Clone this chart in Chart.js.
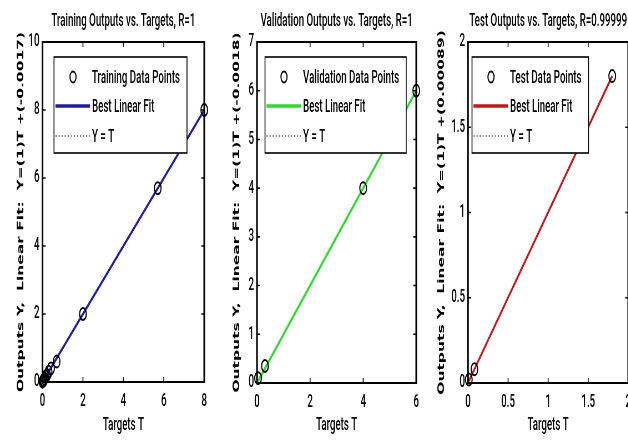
<!DOCTYPE html>
<html>
<head>
<meta charset="utf-8">
<script src="https://cdn.jsdelivr.net/npm/chart.js@4.4.0/dist/chart.umd.min.js"></script>
<style>
  html, body { margin: 0; padding: 0; background: #fff; overflow: hidden; width: 628px; height: 441px; }
  .panel { position: absolute; top: 0; height: 441px; transform-origin: 0 0; }
</style>
</head>
<body>
<div class="panel" id="p1"><canvas id="train"></canvas></div>
<div class="panel" id="p2"><canvas id="valid"></canvas></div>
<div class="panel" id="p3"><canvas id="test"></canvas></div>
<script>
// ---- data ----
const trainTargets = [0, 0.03, 0.06, 0.1, 0.15, 0.22, 0.3, 0.42, 0.7, 2, 5.7, 8];
const trainOutputs = [0.01, 0.04, 0.05, 0.1, 0.16, 0.2, 0.3, 0.4, 0.6, 2, 5.7, 8];
const trainFitT = [0, 8];
const trainFitY = [-0.0017, 7.9983];
const trainXTicks = [0, 2, 4, 6, 8];
const trainYTicks = [0, 2, 4, 6, 8, 10];

const validTargets = [0.04, 0.3, 4, 6];
const validOutputs = [0.1, 0.35, 4, 6];
const validFitT = [0.04, 6];
const validFitY = [0.0382, 5.9982];
const validXTicks = [0, 2, 4, 6];
const validYTicks = [0, 1, 2, 3, 4, 5, 6, 7];

const testTargets = [0.01, 0.08, 1.8];
const testOutputs = [0.02, 0.08, 1.8];
const testFitT = [0.01, 1.8];
const testFitY = [0.0109, 1.8009];
const testXTicks = [0, 0.5, 1, 1.5, 2];
const testYTicks = [0, 0.5, 1, 1.5, 2];

const FONT = 'Roboto, "Liberation Sans", Arial, sans-serif';
const WEIGHT = '500';
const FS = 17.5;
const YFONT = '"DejaVu Sans", sans-serif';
const PANEL_W = 212;

// the reference is squeezed sideways: draw each panel wide, then scale it by S.
// S is picked so the first title comes out as wide as in the picture (144px)
const S = (() => {
  const c = document.createElement('canvas').getContext('2d');
  c.font = WEIGHT + ' ' + FS + 'px ' + FONT;
  return 144 / c.measureText('Training Outputs vs. Targets, R=1').width;
})();

// box round the plot with inward ticks on all four sides
const boxAxes = {
  id: 'boxAxes',
  afterDatasetsDraw(chart) {
    const { ctx, chartArea: a, scales } = chart;
    ctx.save();
    ctx.strokeStyle = '#000';
    ctx.lineWidth = 1.6;
    ctx.beginPath();
    scales.x.ticks.forEach((t, i) => {
      const px = scales.x.getPixelForTick(i);
      ctx.moveTo(px, a.bottom); ctx.lineTo(px, a.bottom - 5);
      ctx.moveTo(px, a.top); ctx.lineTo(px, a.top + 5);
    });
    ctx.stroke();
    ctx.beginPath();
    scales.y.ticks.forEach((t, i) => {
      const py = scales.y.getPixelForTick(i);
      ctx.moveTo(a.left, py); ctx.lineTo(a.left + 3 / S, py);
      ctx.moveTo(a.right, py); ctx.lineTo(a.right - 3 / S, py);
    });
    ctx.stroke();
    ctx.lineWidth = 1.8;
    ctx.beginPath();
    ctx.moveTo(a.left, a.top); ctx.lineTo(a.right, a.top);
    ctx.moveTo(a.left, a.bottom); ctx.lineTo(a.right, a.bottom);
    ctx.stroke();
    ctx.lineWidth = 3;
    ctx.beginPath();
    ctx.moveTo(a.left, a.top - 0.9); ctx.lineTo(a.left, a.bottom + 0.9);
    ctx.moveTo(a.right, a.top - 0.9); ctx.lineTo(a.right, a.bottom + 0.9);
    ctx.stroke();
    ctx.restore();
  }
};

// matlab style legend box in the upper left of the plot
const boxLegend = {
  id: 'boxLegend',
  afterDatasetsDraw(chart, args, opts) {
    const { ctx, chartArea: a } = chart;
    const sets = chart.data.datasets;
    ctx.save();
    ctx.font = WEIGHT + ' ' + FS + 'px ' + FONT;
    const textW = Math.max(...sets.map(d => ctx.measureText(d.label).width));
    const x = a.left + opts.dx / S, y = a.top + opts.dy;
    const w = 38 / S + textW + 7 / S;
    ctx.fillStyle = '#fff';
    ctx.fillRect(x, y, w, opts.h);
    ctx.strokeStyle = '#000';
    ctx.lineWidth = 1.6;
    ctx.strokeRect(x, y, w, opts.h);
    sets.forEach((d, i) => {
      const ry = y + opts.rows[i];
      if (d.showLine) {
        ctx.beginPath();
        ctx.strokeStyle = d.borderColor;
        ctx.lineWidth = d.legendWidth;
        ctx.setLineDash(d.borderDash || []);
        ctx.moveTo(x + 1.5 / S, ry); ctx.lineTo(x + 36 / S, ry);
        ctx.stroke();
        ctx.setLineDash([]);
      } else {
        ctx.beginPath();
        ctx.strokeStyle = '#000';
        ctx.lineWidth = 2;
        ctx.arc(x + 19 / S, ry, 5.5, 0, Math.PI * 2);
        ctx.stroke();
      }
      ctx.fillStyle = '#000';
      ctx.textBaseline = 'middle';
      ctx.textAlign = 'left';
      ctx.fillText(d.label, x + 38 / S, ry + 1.5);
    });
    ctx.restore();
  }
};

function pts(xs, ys) {
  return xs.map((v, i) => ({ x: v, y: ys[i] }));
}

// p.left / p.right / p.yTitleX / p.legendDx are visual pixels inside the panel
function makePanel(id, wrap, p) {
  const el = document.getElementById(wrap);
  el.style.left = p.offset + 'px';
  el.style.width = (PANEL_W / S) + 'px';
  el.style.transform = 'scaleX(' + S + ')';

  const font = { family: FONT, size: FS, weight: WEIGHT };

  new Chart(document.getElementById(id), {
    type: 'scatter',
    data: {
      datasets: [
        {
          label: p.pointLabel,
          data: pts(p.targets, p.outputs),
          showLine: false,
          pointStyle: 'circle',
          pointRadius: 6,
          pointBorderWidth: 2,
          pointBorderColor: '#000',
          pointBackgroundColor: 'rgba(0,0,0,0)',
          clip: false
        },
        {
          label: 'Best Linear Fit',
          data: pts(p.fitT, p.fitY),
          showLine: true,
          borderColor: p.color,
          borderWidth: 3,
          legendWidth: 3.5,
          pointRadius: 0
        },
        {
          label: 'Y = T',
          data: pts(p.fitT, p.fitT),
          showLine: true,
          borderColor: '#000',
          borderWidth: 1,
          legendWidth: 1.2,
          borderDash: [2, 3.5],
          pointRadius: 0
        }
      ]
    },
    options: {
      responsive: true,
      maintainAspectRatio: false,
      animation: false,
      devicePixelRatio: 1,
      layout: { padding: { left: 0, right: (PANEL_W - p.right) / S, top: 0, bottom: 0 } },
      plugins: {
        legend: { display: false },
        tooltip: { enabled: false },
        title: {
          display: true,
          text: p.title,
          fullSize: false,
          color: '#000',
          font: font,
          padding: { top: 11, bottom: 42 - 11 - FS * 1.2 }
        },
        boxLegend: { dx: p.legendDx, dy: 15, h: 96, rows: [20, 49, 79] }
      },
      scales: {
        x: {
          type: 'linear',
          min: p.xTicks[0],
          max: p.xTicks[p.xTicks.length - 1],
          afterBuildTicks: s => { s.ticks = p.xTicks.map(v => ({ value: v })); },
          afterFit: s => { s.height = p.bottomH; },
          grid: { display: false, drawTicks: false },
          border: { display: false },
          ticks: { padding: 9, color: '#000', font: font, callback: v => String(v), maxRotation: 0, autoSkip: false },
          title: { display: true, text: 'Targets T', color: '#000', font: font, padding: { top: 0, bottom: 5 } }
        },
        y: {
          type: 'linear',
          min: p.yTicks[0],
          max: p.yTicks[p.yTicks.length - 1],
          afterBuildTicks: s => { s.ticks = p.yTicks.map(v => ({ value: v })); },
          afterFit: s => { s.width = p.left / S; },
          grid: { display: false, drawTicks: false },
          border: { display: false },
          ticks: { padding: 3 / S, color: '#000', font: font, callback: v => String(v), autoSkip: false },
          title: {
            display: true, text: p.yTitle, color: '#000',
            font: { family: YFONT, size: 15.5, weight: 'bold' },
            padding: { top: p.yTitleX / S - 9.3, bottom: 0 }
          }
        }
      }
    },
    plugins: [boxAxes, boxLegend]
  });
}

makePanel('train', 'p1', {
  title: 'Training Outputs vs. Targets, R=1',
  yTitle: 'Outputs Y,  Linear Fit:  Y=(1)T +(-0.0017)',
  pointLabel: 'Training Data Points',
  targets: trainTargets, outputs: trainOutputs,
  fitT: trainFitT, fitY: trainFitY,
  xTicks: trainXTicks, yTicks: trainYTicks,
  color: '#1e1e9a',
  offset: 0, left: 42.5, right: 205, yTitleX: 21, bottomH: 59, legendDx: 11.5
});

makePanel('valid', 'p2', {
  title: 'Validation Outputs vs. Targets, R=1',
  yTitle: 'Outputs Y,  Linear Fit:  Y=(1)T +(-0.0018)',
  pointLabel: 'Validation Data Points',
  targets: validTargets, outputs: validOutputs,
  fitT: validFitT, fitY: validFitY,
  xTicks: validXTicks, yTicks: validYTicks,
  color: '#2fd82f',
  offset: 212, left: 45, right: 205.5, yTitleX: 25, bottomH: 58, legendDx: 8
});

makePanel('test', 'p3', {
  title: 'Test Outputs vs. Targets, R=0.99999',
  yTitle: 'Outputs Y,  Linear Fit:  Y=(1)T +(0.00089)',
  pointLabel: 'Test Data Points',
  targets: testTargets, outputs: testOutputs,
  fitT: testFitT, fitY: testFitY,
  xTicks: testXTicks, yTicks: testYTicks,
  color: '#c4161c',
  offset: 424, left: 44, right: 207, yTitleX: 18, bottomH: 58, legendDx: 4
});
</script>
</body>
</html>
